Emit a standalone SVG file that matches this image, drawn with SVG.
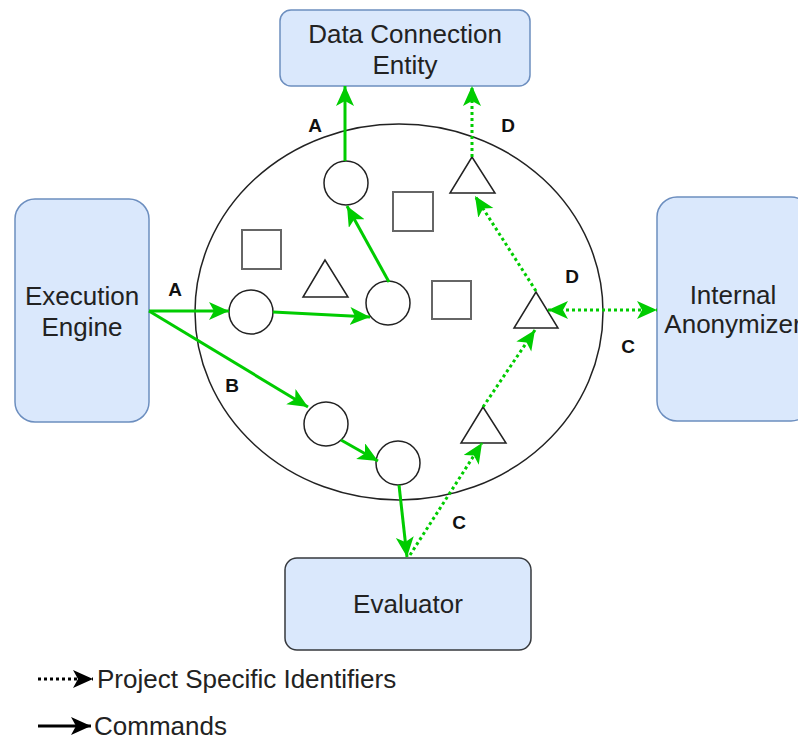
<svg xmlns="http://www.w3.org/2000/svg" width="798" height="742" viewBox="0 0 798 742">
<defs>
<style>
.box{fill:#dae8fc;stroke:#6c8ebf;stroke-width:1.5}
.ev{fill:#dae8fc;stroke:#36393d;stroke-width:1.5}
.t{font-family:"Liberation Sans",Arial,sans-serif;font-size:26px;fill:#222;text-anchor:middle}
.lg{font-family:"Liberation Sans",Arial,sans-serif;font-size:26px;fill:#222}
.lb{font-family:"Liberation Sans",Arial,sans-serif;font-size:19px;font-weight:bold;fill:#111;text-anchor:middle}
.c{fill:#fff;stroke:#222;stroke-width:1.5}
.s{fill:#fff;stroke:#666;stroke-width:2}
.tr{fill:#fff;stroke:#222;stroke-width:1.5}
.cmd{fill:none;stroke:#00cc00;stroke-width:3;marker-end:url(#ga)}
.pid{fill:none;stroke:#00cc00;stroke-width:3;stroke-dasharray:3 3;marker-end:url(#ga)}
</style>
<marker id="ga" markerUnits="userSpaceOnUse" markerWidth="22" markerHeight="20" refX="20" refY="9" orient="auto-start-reverse" viewBox="0 0 22 20">
<path d="M0,0 L20,9 L0,18 L5,9 Z" fill="#00cc00"/>
</marker>
<marker id="ka" markerUnits="userSpaceOnUse" markerWidth="22" markerHeight="20" refX="20" refY="9" orient="auto" viewBox="0 0 22 20">
<path d="M0,0 L20,9 L0,18 L5,9 Z" fill="#000"/>
</marker>
</defs>
<rect width="798" height="742" fill="#fff"/>
<ellipse id="container" cx="399" cy="312" rx="204" ry="188" fill="none" stroke="#222" stroke-width="1.5"/>
<g id="data-connection-entity">
<rect class="box" x="280" y="10" width="250" height="76" rx="11"/>
<text class="t" x="405" y="43">Data Connection</text>
<text class="t" x="405" y="74">Entity</text>
</g>
<g id="execution-engine">
<rect class="box" x="15" y="199" width="134" height="223" rx="20"/>
<text class="t" x="82" y="305">Execution</text>
<text class="t" x="82" y="336">Engine</text>
</g>
<g id="internal-anonymizer">
<rect class="box" x="657" y="197" width="154" height="224" rx="20"/>
<text class="t" x="733" y="304">Internal</text>
<text class="t" x="733" y="333">Anonymizer</text>
</g>
<g id="evaluator">
<rect class="ev" x="285" y="558" width="246" height="92" rx="12"/>
<text class="t" x="408" y="613">Evaluator</text>
</g>
<g id="circle1"><circle class="c" cx="251" cy="312" r="22"/></g>
<g id="circle2"><circle class="c" cx="388" cy="303" r="22"/></g>
<g id="circle3"><circle class="c" cx="346" cy="183" r="22"/></g>
<g id="circle4"><circle class="c" cx="326" cy="424" r="22"/></g>
<g id="circle5"><circle class="c" cx="398" cy="463" r="22"/></g>
<g id="square1"><rect class="s" x="242" y="230" width="39" height="39"/></g>
<g id="square2"><rect class="s" x="393" y="192" width="40" height="39"/></g>
<g id="square3"><rect class="s" x="432" y="281" width="39" height="38"/></g>
<g id="triangle1"><polygon class="tr" points="325,260 303,297 348,297"/></g>
<g id="triangle2"><polygon class="tr" points="472,157 450,193 495,193"/></g>
<g id="triangle3"><polygon class="tr" points="536,292 514,328 558,328"/></g>
<g id="triangle4"><polygon class="tr" points="483,407 461,443 506,443"/></g>
<g id="connectors">
<path class="cmd" d="M149,311 L229,311"/>
<path class="cmd" d="M149,311 L308,407"/>
<path class="cmd" d="M273,312 L370,317"/>
<path class="cmd" d="M389,282 L347,206"/>
<path class="cmd" d="M345,161 L345,86"/>
<path class="cmd" d="M341,440 L378,461"/>
<path class="cmd" d="M399,485 L407,557"/>
<path class="pid" d="M410,555 L482,443"/>
<path class="pid" d="M483,407 L535,330"/>
<path class="pid" d="M536,291 L475,196"/>
<path class="pid" d="M472,157 L472,86"/>
<path class="pid" d="M548,310 L657,310" marker-start="url(#ga)"/>
<text class="lb" x="175" y="296">A</text>
<text class="lb" x="232" y="392">B</text>
<text class="lb" x="315" y="132">A</text>
<text class="lb" x="508" y="132">D</text>
<text class="lb" x="572" y="283">D</text>
<text class="lb" x="628" y="353">C</text>
<text class="lb" x="459" y="529">C</text>
</g>
<g id="legend">
<path d="M38,679 L93,679" fill="none" stroke="#000" stroke-width="3" stroke-dasharray="3 3" marker-end="url(#ka)"/>
<text class="lg" x="97" y="688">Project Specific Identifiers</text>
<path d="M38,726 L91,726" fill="none" stroke="#000" stroke-width="3" marker-end="url(#ka)"/>
<text class="lg" x="94" y="735">Commands</text>
</g>
</svg>
